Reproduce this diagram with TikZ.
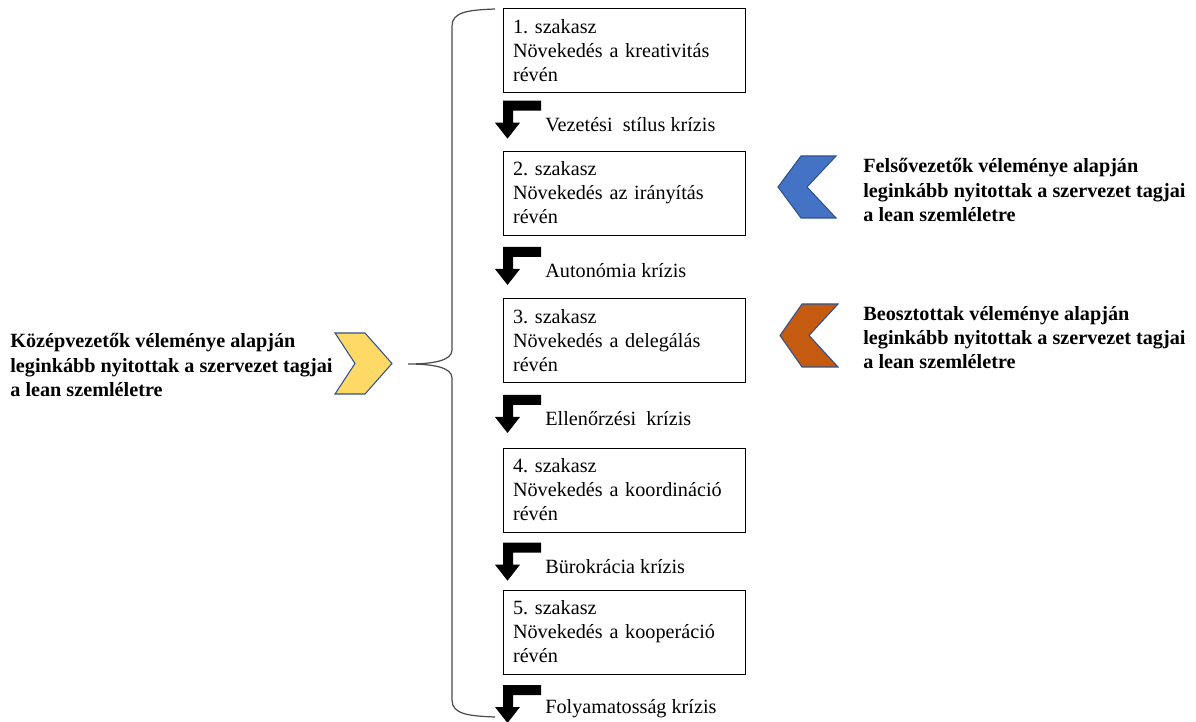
\documentclass[tikz,border=0pt]{standalone}
\usepackage{fontspec}
\setmainfont{Liberation Serif}
\usepackage{xcolor}
\usepackage{tikz}
\definecolor{sunny}{HTML}{FFD966}
\definecolor{topblue}{HTML}{4472C4}
\definecolor{rust}{HTML}{C55A11}
\definecolor{rim}{HTML}{2F528F}
\frenchspacing

\begin{document}
\begin{tikzpicture}[x=0.02cm,y=-0.02cm, every node/.style={font=\fontsize{11.5}{13.7}\selectfont},
	stage/.style={draw,fill=white,minimum width=4.84cm,minimum height=1.68cm,text width=4.44cm,align=left,inner xsep=0.2cm,inner ysep=0pt},
	crisis/.style={anchor=west,inner sep=0pt},
	opinion/.style={anchor=west,align=left,inner sep=0pt,font=\fontsize{11.5}{13.7}\selectfont\bfseries},
	chevron/.style={draw=rim,line width=0.6pt}]
					\useasboundingbox (0,0) rectangle (1196,722);
					\coordinate (s1) at (624,50.3);
					\coordinate (s2) at (624,193);
					\coordinate (s3) at (624,340.3);
					\coordinate (s4) at (624,490);
					\coordinate (s5) at (624,632);
					\coordinate (b1) at (503,100.7);
					\coordinate (b2) at (503,247);
					\coordinate (b3) at (503,395);
					\coordinate (b4) at (503,542.7);
					\coordinate (b5) at (503,685);
					\coordinate (k1) at (545,124.7);
					\coordinate (k2) at (545,271);
					\coordinate (k3) at (545,419);
					\coordinate (k4) at (545,566.7);
					\coordinate (k5) at (545,709);
					\coordinate (tip) at (408,364);
					
					% kapcsos zarojel
					\draw[color=black!70,line width=0.7pt] (495,9) .. controls (468,10) and (452,12) .. (452,26) -- (452,350) .. controls (452,361) and (432,364) .. (tip) .. controls (432,364) and (452,367) .. (452,378) -- (452,700) .. controls (452,714) and (468,716) .. (495,717);
					
					\node (stage1) at (s1) [stage] {1. szakasz\\Növekedés a kreativitás\\révén};
					\node (stage2) at (s2) [stage] {2. szakasz\\Növekedés az irányítás\\révén};
					\node (stage3) at (s3) [stage] {3. szakasz\\Növekedés a delegálás\\révén};
					\node (stage4) at (s4) [stage] {4. szakasz\\Növekedés a koordináció\\révén};
					\node (stage5) at (s5) [stage] {5. szakasz\\Növekedés a kooperáció\\révén};
					
					\fill[black] (b1) -- ++(38,0) -- ++(0,10) -- ++(-28,0) -- ++(0,12) -- ++(7,0) -- ++(-12.5,16) -- ++(-12.5,-16) -- ++(8,0) -- cycle;
					\fill[black] (b2) -- ++(38,0) -- ++(0,10) -- ++(-28,0) -- ++(0,12) -- ++(7,0) -- ++(-12.5,16) -- ++(-12.5,-16) -- ++(8,0) -- cycle;
					\fill[black] (b3) -- ++(38,0) -- ++(0,10) -- ++(-28,0) -- ++(0,12) -- ++(7,0) -- ++(-12.5,16) -- ++(-12.5,-16) -- ++(8,0) -- cycle;
					\fill[black] (b4) -- ++(38,0) -- ++(0,10) -- ++(-28,0) -- ++(0,12) -- ++(7,0) -- ++(-12.5,16) -- ++(-12.5,-16) -- ++(8,0) -- cycle;
					\fill[black] (b5) -- ++(38,0) -- ++(0,10) -- ++(-28,0) -- ++(0,12) -- ++(7,0) -- ++(-12.5,16) -- ++(-12.5,-16) -- ++(8,0) -- cycle;
					
					\node (crisis1) at (k1) [crisis] {Vezetési\ \ stílus krízis};
					\node (crisis2) at (k2) [crisis] {Autonómia krízis};
					\node (crisis3) at (k3) [crisis] {Ellenőrzési\ \ krízis};
					\node (crisis4) at (k4) [crisis] {Bürokrácia krízis};
					\node (crisis5) at (k5) [crisis] {Folyamatosság krízis};
					
					% nyilak
					\draw[chevron,fill=sunny] (335,333) -- (365,333) -- (392,363.5) -- (365,394) -- (335,394) -- (355,363.5) -- cycle;
					\draw[chevron,fill=topblue] (836,156) -- (801,156) -- (778,187) -- (801,218) -- (836,218) -- (807,187) -- cycle;
					\draw[chevron,fill=rust] (838,304) -- (802,304) -- (780,335.5) -- (802,367) -- (838,367) -- (809,335.5) -- cycle;
					
					\node (mid) at (10,365) [opinion] {Középvezetők véleménye alapján\\leginkább nyitottak a szervezet tagjai\\a lean szemléletre};
					\node (top) at (863,190) [opinion] {Felsővezetők véleménye alapján\\leginkább nyitottak a szervezet tagjai\\a lean szemléletre};
					\node (sub) at (863,337.5) [opinion] {Beosztottak véleménye alapján\\leginkább nyitottak a szervezet tagjai\\a lean szemléletre};
					
				\end{tikzpicture}
\end{document}
